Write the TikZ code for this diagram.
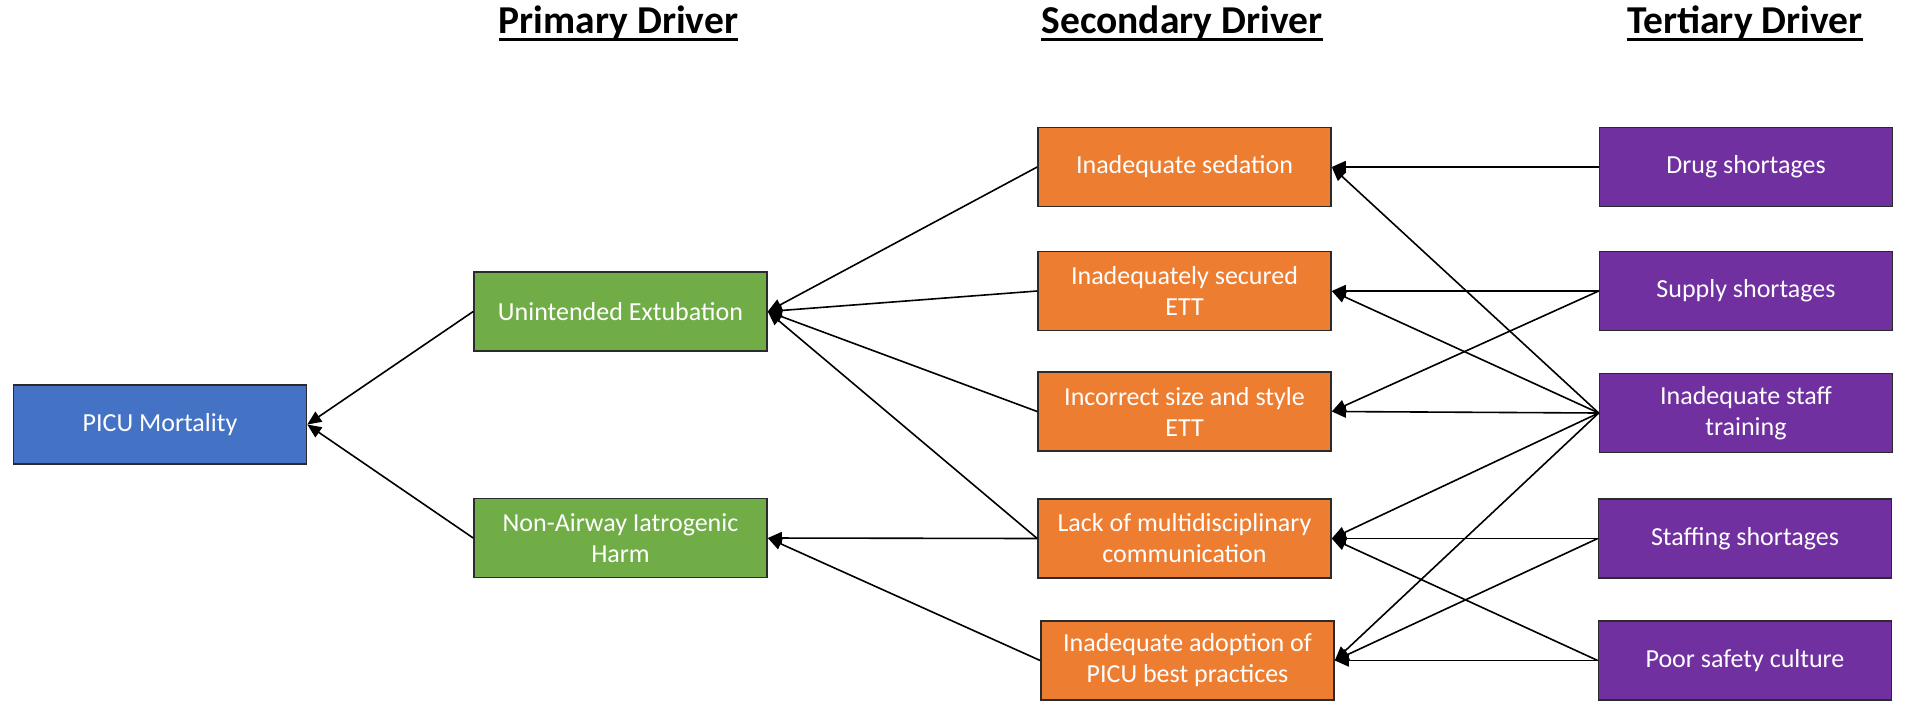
\documentclass[tikz,border=0pt]{standalone}
\usepackage{fontspec}
\setmainfont{Carlito}
\usetikzlibrary{arrows.meta}
\definecolor{cblue}{HTML}{4472C4}
\definecolor{cgreen}{HTML}{70AD47}
\definecolor{corange}{HTML}{ED7D31}
\definecolor{cpurple}{HTML}{7030A0}
\definecolor{cborder}{HTML}{2B2B2B}
\tikzset{
  box/.style={draw=cborder, line width=0.8pt, minimum width=146.5pt, minimum height=39.5pt,
    inner sep=2pt, align=center, text=white,
    font=\fontsize{13pt}{15.5pt}\selectfont},
  bluebox/.style={box, fill=cblue},
  greenbox/.style={box, fill=cgreen},
  orangebox/.style={box, fill=corange},
  purplebox/.style={box, fill=cpurple},
  hdr/.style={inner sep=0pt, anchor=base, font=\fontsize{19.75pt}{24pt}\selectfont\bfseries},
  conn/.style={line width=0.8pt, -{Triangle[length=7pt, width=6pt]}},
}
\begin{document}
\begin{tikzpicture}[x=0.5pt, y=-0.5pt]
\path[use as bounding box, fill=white] (0,0) rectangle (1907,719);

% headers
\node[hdr] (h1) at (618.5,33) {Primary Driver};
\node[hdr] (h2) at (1182,33) {Secondary Driver};
\node[hdr] (h3) at (1745,33) {Tertiary Driver};
\foreach \h in {h1,h2,h3}{
  \draw[line width=1.3pt] ([yshift=-3.2pt]\h.base west) -- ([yshift=-3.2pt]\h.base east);
}

% outcome
\node[bluebox] (picu) at (160,424.5) {PICU Mortality};

% primary
\node[greenbox] (ue) at (620.5,311.5) {Unintended Extubation};
\node[greenbox] (na) at (620.5,538) {Non-Airway Iatrogenic\\Harm};

% secondary
\node[orangebox] (sed) at (1184.5,167) {Inadequate sedation};
\node[orangebox] (sec) at (1184.5,291) {Inadequately secured\\ETT};
\node[orangebox] (inc) at (1184.5,411.5) {Incorrect size and style\\ETT};
\node[orangebox] (lack) at (1184.5,538.5) {Lack of multidisciplinary\\communication};
\node[orangebox] (adop) at (1187.5,660.5) {Inadequate adoption of\\PICU best practices};

% tertiary
\node[purplebox] (drug) at (1746,167) {Drug shortages};
\node[purplebox] (sup) at (1746,291) {Supply shortages};
\node[purplebox] (staff) at (1746,413) {Inadequate staff\\training};
\node[purplebox] (stf) at (1745,538.5) {Staffing shortages};
\node[purplebox] (poor) at (1745,660.5) {Poor safety culture};

% primary -> outcome
\draw[conn] (ue.west) -- (picu.east);
\draw[conn] (na.west) -- (picu.east);

% secondary -> primary
\draw[conn] (sed.west) -- (ue.east);
\draw[conn] (sec.west) -- (ue.east);
\draw[conn] (inc.west) -- (ue.east);
\draw[conn] (lack.west) -- (ue.east);
\draw[conn] (lack.west) -- (na.east);
\draw[conn] (adop.west) -- (na.east);

% tertiary -> secondary
\draw[conn] (drug.west) -- (sed.east);
\draw[conn] (sup.west) -- (sec.east);
\draw[conn] (sup.west) -- (inc.east);
\draw[conn] (staff.west) -- (sed.east);
\draw[conn] (staff.west) -- (sec.east);
\draw[conn] (staff.west) -- (inc.east);
\draw[conn] (staff.west) -- (lack.east);
\draw[conn] (staff.west) -- (adop.east);
\draw[conn] (stf.west) -- (lack.east);
\draw[conn] (stf.west) -- (adop.east);
\draw[conn] (poor.west) -- (adop.east);
\draw[conn] (poor.west) -- (lack.east);
\end{tikzpicture}
\end{document}
